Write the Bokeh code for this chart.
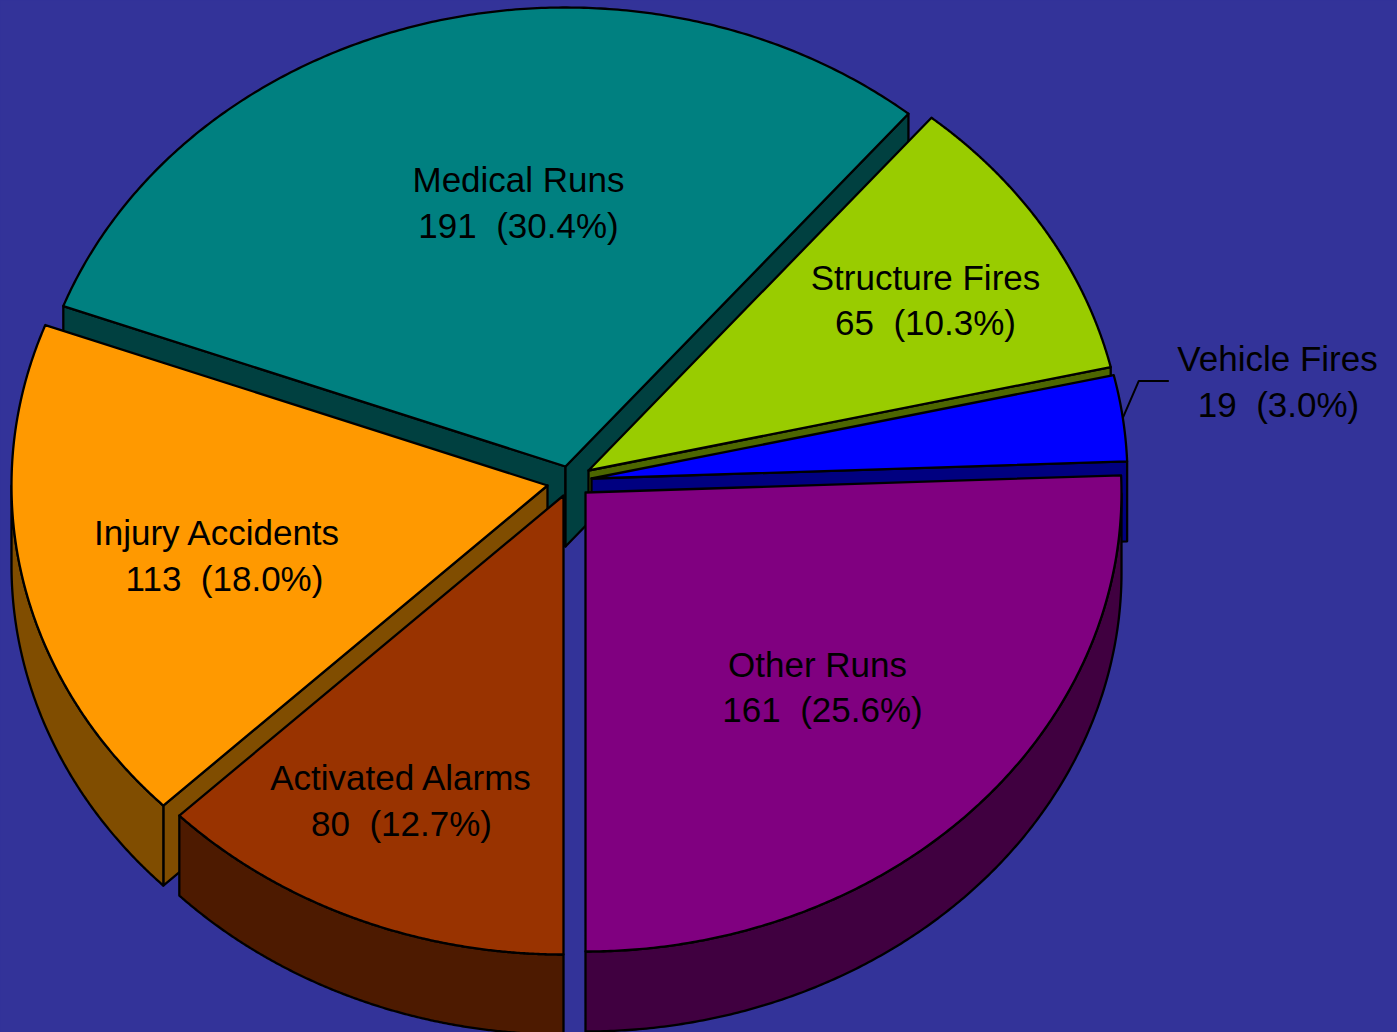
import numpy as np
from bokeh.plotting import figure
from bokeh.models import ColumnDataSource, Range1d
from bokeh.core.properties import value
from bokeh.embed import file_html
from bokeh.resources import INLINE

# ---- data (clockwise from the start angle) ----
categories = ["Other Runs", "Activated Alarms", "Injury Accidents", "Medical Runs", "Structure Fires", "Vehicle Fires"]
counts = [161, 80, 113, 191, 65, 19]
top_colors = ["#800080", "#993300", "#FF9900", "#008080", "#99CC00", "#0000FF"]
side_colors = ["#400040", "#4D1A00", "#804D00", "#004040", "#4D6600", "#000080"]

# ---- layout ----
W, H = 1397, 1032
BG = "#333399"
RX, RY, DEPTH = 536.0, 459.0, 80.0
apex = {
    "Other Runs": (585, 492), "Activated Alarms": (563, 495), "Injury Accidents": (547, 485),
    "Medical Runs": (565, 466), "Structure Fires": (588, 470), "Vehicle Fires": (591, 478),
}
label_pos = {
    "Other Runs": ((817, 664), (822, 709)), "Activated Alarms": ((401, 777), (401, 823)),
    "Injury Accidents": ((217, 532), (224, 578)), "Medical Runs": ((518, 179), (518, 225)),
    "Structure Fires": ((925, 277), (925, 322)), "Vehicle Fires": ((1277, 358), (1278, 404)),
}
draw_order = ["Medical Runs", "Structure Fires", "Vehicle Fires", "Injury Accidents", "Activated Alarms", "Other Runs"]

total = sum(counts)
# the first slice ends exactly at the bottom of the pie
a = 360.0 * counts[0] / total - 90.0
spans = {}
for c, v in zip(categories, counts):
    b = a - 360.0 * v / total
    spans[c] = (a, b)
    a = b

xs, ys, fills = [], [], []


def add(px, py, color):
    xs.append(list(px)); ys.append(list(py)); fills.append(color)


for c in draw_order:
    i = categories.index(c)
    a1, a2 = spans[c]
    cx, cy = apex[c]
    r1, r2 = np.radians(a1), np.radians(a2)
    pt = lambda r: (cx + RX * np.cos(r), cy - RY * np.sin(r))
    # radial faces turned towards the viewer
    for r, vis in ((r1, np.cos(r1) < -1e-9), (r2, np.cos(r2) > 1e-9)):
        if vis:
            ex, ey = pt(r)
            add([cx, ex, ex, cx], [cy, ey, ey + DEPTH, cy + DEPTH], side_colors[i])
    # outer wall: only the part of the rim on the lower half of the ellipse
    t = np.radians(np.linspace(a1, a2, 241))
    t = t[np.sin(t) <= 0]
    if len(t) > 1:
        rx_ = cx + RX * np.cos(t)
        ry_ = cy - RY * np.sin(t)
        add(np.r_[rx_, rx_[::-1]], np.r_[ry_, ry_[::-1] + DEPTH], side_colors[i])
    # top face
    t = np.radians(np.linspace(a1, a2, 241))
    add(np.r_[cx, cx + RX * np.cos(t)], np.r_[cy, cy - RY * np.sin(t)], top_colors[i])

p = figure(width=W, height=H, output_backend="svg", toolbar_location=None,
           x_range=Range1d(0, W), y_range=Range1d(H, 0), min_border=0,
           background_fill_color=BG, border_fill_color=BG, outline_line_color=None)
p.axis.visible = False
p.grid.visible = False

p.patches("xs", "ys", fill_color="fills", line_color="black", line_width=2.3, line_join="round",
          source=ColumnDataSource(dict(xs=xs, ys=ys, fills=fills)))

# leader line of the small slice
va1, va2 = spans["Vehicle Fires"]
vm = np.radians(0.5 * (va1 + va2))
vx, vy = apex["Vehicle Fires"]
lx0, ly0 = vx + RX * np.cos(vm), vy - RY * np.sin(vm)
p.line([lx0, lx0 + 16, lx0 + 46], [ly0, ly0 - 37, ly0 - 37], line_color="black", line_width=2)

tx, ty, tt = [], [], []
for c, v in zip(categories, counts):
    (x1, y1), (x2, y2) = label_pos[c]
    tx += [x1, x2]
    ty += [y1, y2]
    tt += [c, f"{v}\u00a0\u00a0({100 * v / total:.1f}%)"]
p.text(tx, ty, text=tt, text_font=value("Liberation Sans"), text_font_size="35px", text_color="black",
       text_align="center", text_baseline="middle")

html = file_html(p, INLINE)
html = html.replace("<head>", "<head><style>html,body{margin:0;padding:0;background:#333399;overflow:hidden}</style>", 1)
open("out.html", "w").write(html)
